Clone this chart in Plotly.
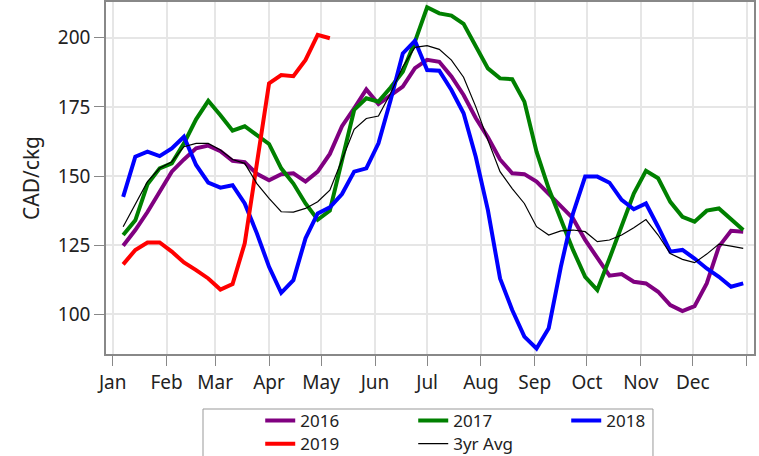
import plotly.graph_objects as go
import pandas as pd

weeks = pd.date_range("2019-01-07", periods=52, freq="7D")

y2016 = [124.8, 130.5, 137, 144, 151.6, 156, 160, 161, 159, 155.5, 155, 150.8, 148.5, 150.7,
         151, 148, 151.6, 158, 168, 174.5, 181.3, 176, 179.3, 182.3, 189, 192, 191.3, 186,
         179.3, 171, 164, 156, 151, 150.7, 148, 143.7, 139.5, 134.7, 126.9, 120.2, 114,
         114.6, 111.8, 111.2, 108.2, 103.4, 101.2, 103, 111.2, 124.5, 130.2, 129.9]
y2017 = [128.7, 134, 147, 152.8, 154.6, 161.8, 170.5, 177.2, 172, 166.4, 168, 164.8, 161.6,
         152.8, 147.3, 140.1, 134.2, 137.5, 155.8, 173.9, 178.1, 176.9, 182, 187.7, 198.6,
         211, 208.8, 208, 205, 196.7, 188.9, 185.3, 185, 176.9, 158.8, 145.5, 134.1, 123.3,
         113.6, 108.8, 120.2, 131.6, 143.7, 151.9, 149.2, 140.7, 135.3, 133.5, 137.5,
         138.3, 134.5, 130.5]
y2018 = [142.5, 157, 158.8, 157.2, 160, 164.2, 154, 147.6, 145.8, 146.7, 140.1, 129.3, 117.2,
         107.8, 112.4, 127.5, 136.5, 138.7, 143.5, 151.6, 152.8, 161.8, 177.5, 194.3, 198.9,
         188.3, 188.1, 181.1, 172.7, 157, 137.7, 113, 101.6, 92, 87.7, 95, 117.2, 136.5,
         149.8, 149.8, 147.6, 141.4, 138, 140.1, 131.7, 122.7, 123.3, 120.2, 116.6, 113.6,
         110, 111.2]
y2019 = [118.1, 123.3, 126, 126, 122.7, 118.8, 116, 113, 109, 111, 125.7, 155, 183.5, 186.5,
         186.1, 192, 201, 199.8]
yavg = [131.7, 140.1, 148, 152.8, 155.2, 160.6, 161.8, 161.8, 159.4, 156, 154.6, 147.3, 141.9,
        137.1, 137, 138.3, 140.7, 144.9, 155.8, 166.9, 170.8, 171.7, 179.9, 189.5, 196.5,
        197.1, 195.8, 191.9, 185.7, 175.1, 163, 151.6, 145.5, 140.1, 131.7, 128.7, 130.2,
        130.5, 129.9, 126.3, 126.9, 128.7, 131.3, 134.3, 128.7, 122, 119.9, 118.7, 121.8,
        125.4, 124.7, 123.9]

month_ticks = pd.date_range("2019-01-01", periods=13, freq="MS")
month_labels = ["Jan", "Feb", "Mar", "Apr", "May", "Jun", "Jul", "Aug", "Sep", "Oct",
                "Nov", "Dec", ""]
y_ticks = [100, 125, 150, 175, 200]

series = [
    ("2016", y2016, "#800080", 4, "legend"),
    ("2017", y2017, "#008000", 4, "legend"),
    ("2018", y2018, "#0000FF", 4, "legend"),
    ("2019", y2019, "#FF0000", 4, "legend2"),
    ("3yr Avg", yavg, "#000000", 1.2, "legend2"),
]

FONT = "Noto Sans"
fig = go.Figure()
for name, ys, color, w, lg in series:
    fig.add_trace(go.Scatter(x=weeks[:len(ys)], y=ys, name=name, mode="lines",
                             line=dict(color=color, width=w), legend=lg))

leg_common = dict(orientation="h", xanchor="left", yanchor="middle",
                  bgcolor="rgba(0,0,0,0)", borderwidth=0,
                  font=dict(size=17, family=FONT, color="#222"),
                  entrywidth=108, itemwidth=30)

fig.update_layout(
    width=759, height=456,
    margin=dict(l=106, r=5, t=2, b=102, autoexpand=False),
    paper_bgcolor="white", plot_bgcolor="white",
    font=dict(family=FONT, size=19, color="#222"),
    showlegend=True,
    legend=dict(x=0.238, y=-0.19, **leg_common),
    legend2=dict(x=0.238, y=-0.256, **leg_common),
    shapes=[dict(type="rect", xref="paper", yref="paper",
                 x0=0.1497, x1=0.8441, y0=-0.15625, y1=-0.2926,
                 line=dict(color="#999", width=1), fillcolor="rgba(0,0,0,0)")],
)
fig.update_xaxes(
    range=["2018-12-28 03:00", "2020-01-05 05:00"],
    tickmode="array", tickvals=month_ticks, ticktext=month_labels,
    ticks="outside", ticklen=10, tickcolor="#888",
    showline=True, linecolor="#888", linewidth=1.5, mirror=True,
    showgrid=True, gridcolor="#e6e6e6", gridwidth=1.5, zeroline=False,
    tickfont=dict(size=19, family=FONT, color="#222"), automargin=False,
)
fig.update_yaxes(
    range=[85.7, 212.9], tickvals=y_ticks,
    ticks="outside", ticklen=10, tickcolor="#888",
    showline=True, linecolor="#888", linewidth=1.5, mirror=True,
    showgrid=True, gridcolor="#e6e6e6", gridwidth=1.5, zeroline=False,
    tickfont=dict(size=19, family=FONT, color="#222"), automargin=False,
    title=dict(text="CAD/ckg", font=dict(size=21, family=FONT, color="#222"), standoff=12),
)
fig.write_html("out.html", config={"displayModeBar": False},
               post_script="document.body.style.margin='0';document.body.style.padding='0';")
